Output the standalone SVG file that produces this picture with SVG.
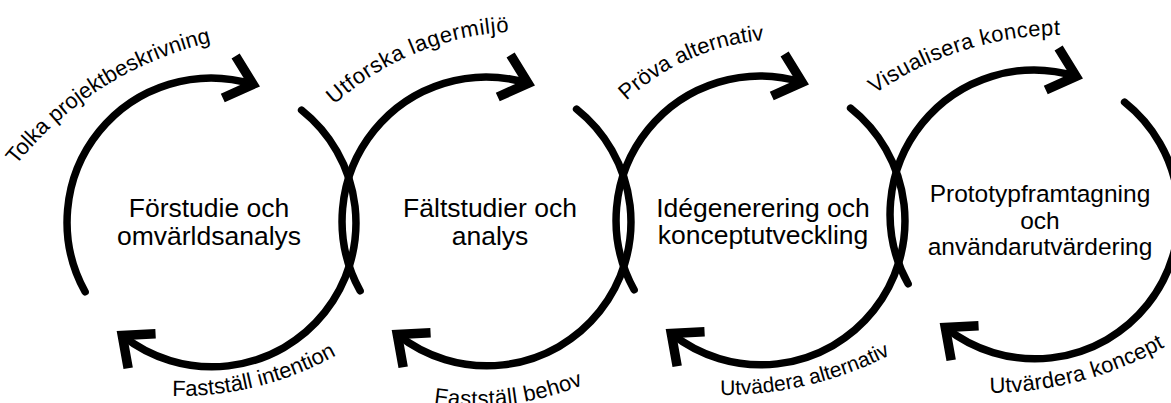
<svg xmlns="http://www.w3.org/2000/svg" width="1171" height="403" viewBox="0 0 1171 403">
  <style>
    .arc { fill: none; stroke: #000; stroke-width: 7.5; stroke-linecap: round; }
    .node { font-family: "Liberation Sans", Arial, sans-serif; font-size: 26.5px; fill: #000; text-anchor: middle; }
    .node.sm { font-size: 24.5px; }
    .lbl { font-family: "Liberation Sans", Arial, sans-serif; font-size: 22px; fill: #000; }
    .lbl.sm { font-size: 21px; }
  </style>
  <defs>
    <marker id="ah" markerUnits="userSpaceOnUse" orient="auto" markerWidth="60" markerHeight="60" viewBox="-30 -30 60 60" refX="0" refY="0" overflow="visible">
      <path d="M-25,-22 L0,0 L-25,22" fill="none" stroke="#000" stroke-width="9.5" stroke-linejoin="miter" stroke-miterlimit="10"/>
    </marker>
    <path id="p1" d="M-18.5,217.9 A350,350 0 0 1 273.5,33.7"/>
    <path id="p2" d="M294.4,149.9 A280,280 0 0 1 569.6,35.6"/>
    <path id="p3" d="M589.2,145.2 A230,230 0 0 1 821.8,42.8"/>
    <path id="p4" d="M821.1,140.4 A330,330 0 0 1 1130.8,42.1"/>
    <path id="p5" d="M107.5,387.8 A321,321 0 0 0 389.9,317.6"/>
    <path id="p6" d="M376.4,388.4 A288,288 0 0 0 636,356.9"/>
    <path id="p7" d="M647.6,386.7 A363,363 0 0 0 951.8,314.8"/>
    <path id="p8" d="M916,386 A366,366 0 0 0 1225.8,304.5"/>
  </defs>
  <rect width="1171" height="403" fill="#fff"/>

  <g id="connectors">
    <path class="arc" marker-end="url(#ah)" d="M85.1,291.8 A144,144 0 0 1 253.1,84.3"/>
    <path class="arc" marker-end="url(#ah)" d="M301.6,110.1 A144,144 0 0 1 122.3,335.5"/>
    <path class="arc" marker-end="url(#ah)" d="M360.1,290.8 A144,144 0 0 1 528.1,83.3"/>
    <path class="arc" marker-end="url(#ah)" d="M576.6,109.1 A144,144 0 0 1 397.3,334.5"/>
    <path class="arc" marker-end="url(#ah)" d="M634.1,289.8 A144,144 0 0 1 802.1,82.3"/>
    <path class="arc" marker-end="url(#ah)" d="M850.6,108.1 A144,144 0 0 1 671.3,333.5"/>
    <path class="arc" marker-end="url(#ah)" d="M908.1,283.8 A144,144 0 0 1 1076.1,76.3"/>
    <path class="arc" marker-end="url(#ah)" d="M1124.6,102.1 A144,144 0 0 1 945.3,327.5"/>

    <text class="lbl"><textPath href="#p1" startOffset="50%" text-anchor="middle">Tolka projektbeskrivning</textPath></text>
    <text class="lbl" letter-spacing="0.6"><textPath href="#p2" startOffset="50%" text-anchor="middle">Utforska lagermiljö</textPath></text>
    <text class="lbl"><textPath href="#p3" startOffset="50%" text-anchor="middle">Pröva alternativ</textPath></text>
    <text class="lbl" letter-spacing="0.4"><textPath href="#p4" startOffset="50%" text-anchor="middle">Visualisera koncept</textPath></text>
    <text class="lbl"><textPath href="#p5" startOffset="50%" text-anchor="middle">Fastställ intention</textPath></text>
    <text class="lbl" letter-spacing="0.3"><textPath href="#p6" startOffset="50%" text-anchor="middle">Fastställ behov</textPath></text>
    <text class="lbl sm"><textPath href="#p7" startOffset="50%" text-anchor="middle">Utvädera alternativ</textPath></text>
    <text class="lbl" letter-spacing="0.2"><textPath href="#p8" startOffset="50%" text-anchor="middle">Utvärdera koncept</textPath></text>
  </g>

  <g id="node-forstudie">
    <text class="node" x="209" y="217">Förstudie och</text>
    <text class="node" x="209" y="245">omvärldsanalys</text>
  </g>
  <g id="node-faltstudier">
    <text class="node" x="490" y="217">Fältstudier och</text>
    <text class="node" x="490" y="245">analys</text>
  </g>
  <g id="node-idegenerering">
    <text class="node" x="763" y="217">Idégenerering och</text>
    <text class="node" x="763" y="244">konceptutveckling</text>
  </g>
  <g id="node-prototyp">
    <text class="node sm" x="1040" y="202">Prototypframtagning</text>
    <text class="node sm" x="1040" y="229">och</text>
    <text class="node sm" x="1040" y="255">användarutvärdering</text>
  </g>
</svg>
